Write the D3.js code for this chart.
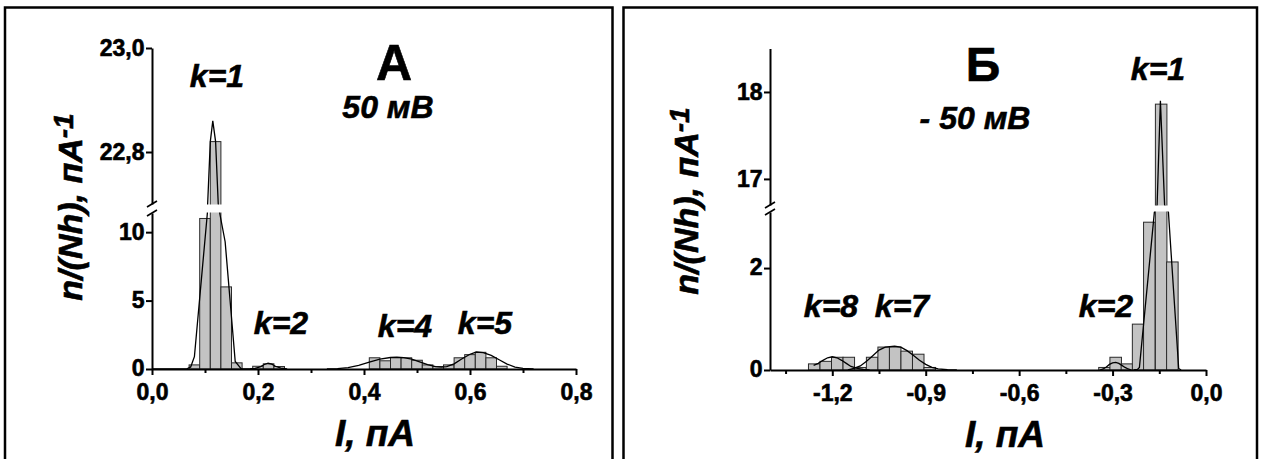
<!DOCTYPE html>
<html>
<head>
<meta charset="utf-8">
<script src="https://cdn.jsdelivr.net/npm/d3@7"></script>
<style>
  body { margin: 0; background: #fff; }
  svg { display: block; }
  text { font-family: "Liberation Sans", Arial, sans-serif; font-weight: bold; fill: #000;
         stroke: #000; stroke-width: 0.6px; }
</style>
</head>
<body>
<svg id="fig" width="1263" height="459"></svg>
<script>
// ---------- Panel A: +50 mV ----------
const histA_I = [0.08, 0.10, 0.12, 0.14, 0.16, 0.20, 0.22, 0.24,
                 0.42, 0.44, 0.46, 0.48, 0.50, 0.52, 0.54, 0.56, 0.58, 0.60, 0.62, 0.64, 0.66];
const histA_n = [0.3, 11.0, 22.82, 6.0, 0.45, 0.2, 0.38, 0.18,
                 0.82, 0.6, 0.84, 0.82, 0.64, 0.3, 0.18, 0.3, 0.82, 1.05, 1.22, 0.82, 0.2];
const binA = 0.02;

const fitA_k1 = [[0.0, 0], [0.065, 0], [0.073, 0.15], [0.08, 0.9], [0.1045, 11.4], [0.1048, 17],
                 [0.105, 22.7], [0.11, 22.82], [0.1147, 22.86], [0.12, 22.82], [0.125, 22.7],
                 [0.1265, 17], [0.1277, 11.4], [0.138, 9.3], [0.157, 0.55], [0.168, 0.02], [0.19, 0]];
const fitA_k2 = [[0.185, 0], [0.195, 0.05], [0.205, 0.18], [0.212, 0.33], [0.219, 0.42], [0.226, 0.35],
                 [0.233, 0.2], [0.243, 0.06], [0.255, 0]];
const fitA_k45 = [[0.33, 0], [0.35, 0.03], [0.37, 0.1], [0.39, 0.27], [0.41, 0.5], [0.43, 0.72], [0.45, 0.84],
                  [0.462, 0.86], [0.475, 0.83], [0.49, 0.72], [0.505, 0.52], [0.52, 0.32], [0.535, 0.17],
                  [0.546, 0.13], [0.556, 0.17], [0.57, 0.38], [0.585, 0.75], [0.60, 1.08], [0.612, 1.24],
                  [0.625, 1.2], [0.64, 1.0], [0.655, 0.68], [0.67, 0.36], [0.685, 0.14], [0.70, 0.04], [0.72, 0]];

const xTicksA = [0, 0.2, 0.4, 0.6, 0.8];
const xTickLabelsA = ["0,0", "0,2", "0,4", "0,6", "0,8"];
const xMinorA = [0.1, 0.3, 0.5, 0.7];
const yTicksLowA = [0, 5, 10];
const yTickLabelsLowA = ["0", "5", "10"];
const yTicksHighA = [22.8, 23.0];
const yTickLabelsHighA = ["22,8", "23,0"];
const peakLabelsA = ["k=1", "k=2", "k=4", "k=5"];

// ---------- Panel Б: −50 mV ----------
const histB_I = [-1.258, -1.221, -1.184, -1.147, -1.110, -1.072, -1.035, -0.998, -0.961, -0.924, -0.887,
                 -0.326, -0.290, -0.254, -0.218, -0.182, -0.144, -0.108];
const histB_n = [0.12, 0.17, 0.25, 0.25, 0.05, 0.25, 0.45, 0.45, 0.37, 0.31, 0.05,
                 0.05, 0.25, 0.12, 0.9, 2.9, 17.86, 2.12];
const binB = 0.037;

const fitB_k8 = [[-1.26, 0.09], [-1.245, 0.13], [-1.23, 0.19], [-1.215, 0.24], [-1.2, 0.26], [-1.185, 0.24],
                 [-1.17, 0.19], [-1.155, 0.13], [-1.14, 0.07], [-1.12, 0.03], [-1.1, 0.01], [-1.08, 0]];
const fitB_k7 = [[-1.15, 0], [-1.13, 0.03], [-1.11, 0.08], [-1.09, 0.17], [-1.07, 0.28], [-1.05, 0.39],
                 [-1.03, 0.45], [-1.0, 0.47], [-0.98, 0.45], [-0.96, 0.38], [-0.94, 0.29], [-0.92, 0.19],
                 [-0.90, 0.11], [-0.88, 0.05], [-0.86, 0.02], [-0.83, 0.005], [-0.80, 0]];
const fitB_k2 = [[-0.34, 0], [-0.33, 0.02], [-0.32, 0.06], [-0.31, 0.11], [-0.30, 0.14], [-0.29, 0.15],
                 [-0.28, 0.13], [-0.27, 0.09], [-0.26, 0.05], [-0.25, 0.02], [-0.24, 0]];
const fitB_k1 = [[-0.232, 0], [-0.22, 0.01], [-0.2138, 0.05], [-0.1657, 3.1], [-0.16, 10], [-0.157, 16.7],
                 [-0.1464, 17.9], [-0.1329, 16.7], [-0.127, 10], [-0.1207, 3.1], [-0.0877, 0.03], [-0.08, 0]];

const xTicksB = [-1.2, -0.9, -0.6, -0.3, 0.0];
const xTickLabelsB = ["-1,2", "-0,9", "-0,6", "-0,3", "0,0"];
const xMinorB = [-1.35, -1.05, -0.75, -0.45, -0.15];
const yTicksLowB = [0, 2];
const yTickLabelsLowB = ["0", "2"];
const yTicksHighB = [17, 18];
const yTickLabelsHighB = ["17", "18"];
const peakLabelsB = ["k=8", "k=7", "k=2", "k=1"];

const xTitle = "I, пА";
const yTitleMain = "n/(Nh), пА";
const yTitleSup = "-1";

// ---------- drawing helpers ----------
const svg = d3.select("#fig");

// y scale with an axis break: a lower and an upper linear segment
function brokenScale(lowDom, lowRange, highDom, highRange) {
  const lo = d3.scaleLinear().domain(lowDom).range(lowRange);
  const hi = d3.scaleLinear().domain(highDom).range(highRange);
  const f = v => {
    if (v <= lowDom[1]) return lo(v);
    if (v >= highDom[0]) return hi(v);
    const t = (v - lowDom[1]) / (highDom[0] - lowDom[1]);
    return lowRange[1] + t * (highRange[0] - lowRange[1]);
  };
  f.lo = lo; f.hi = hi;
  return f;
}

function addText(g, x, y, str, size, italic, anchor) {
  return g.append("text")
    .attr("x", x).attr("y", y)
    .attr("text-anchor", anchor || "middle")
    .style("font-size", size + "px")
    .style("font-style", italic ? "italic" : "normal")
    .text(str);
}

function drawPanel(p) {
  const g = svg.append("g");

  // frame
  g.append("rect").attr("x", p.frame[0]).attr("y", p.frame[1])
    .attr("width", p.frame[2]).attr("height", p.frame[3])
    .attr("fill", "none").attr("stroke", "#000").attr("stroke-width", 2.5);

  const x = d3.scaleLinear().domain(p.xDomain).range(p.xRange);
  const y = brokenScale(p.yLowDom, p.yLowRange, p.yHighDom, p.yHighRange);
  const y0 = y(0);

  // histogram bars
  g.append("g").selectAll("rect").data(p.hist).join("rect")
    .attr("x", d => x(d[0] - p.bin / 2))
    .attr("width", d => x(d[0] + p.bin / 2) - x(d[0] - p.bin / 2))
    .attr("y", d => y(d[1]))
    .attr("height", d => y0 - y(d[1]))
    .attr("fill", "#c3c3c3").attr("stroke", "#2a2a2a").attr("stroke-width", 1);

  // fitted curves
  const line = d3.line().x(d => x(d[0])).y(d => y(d[1]));
  g.append("g").selectAll("path").data(p.fits).join("path")
    .attr("d", line).attr("fill", "none").attr("stroke", "#000").attr("stroke-width", 1.3);

  // white gap where the axis is broken
  const gapTop = p.yHighRange[0], gapBot = p.yLowRange[1];
  g.append("rect").attr("x", p.xRange[0] + 1.5).attr("y", gapTop + 0.5)
    .attr("width", p.xRange[1] - p.xRange[0]).attr("height", gapBot - gapTop - 1)
    .attr("fill", "#fff");

  // x axis
  const gx = g.append("g").attr("transform", `translate(0,${y0})`);
  gx.call(d3.axisBottom(x).tickValues(p.xTicks).tickFormat((d, i) => p.xTickLabels[i])
    .tickSize(6).tickPadding(p.xPad).tickSizeOuter(0));
  gx.append("g").call(d3.axisBottom(x).tickValues(p.xMinor).tickFormat("").tickSize(4).tickSizeOuter(0))
    .select(".domain").remove();

  // y axis, two segments
  const gyLo = g.append("g").attr("transform", `translate(${p.xRange[0]},0)`);
  gyLo.call(d3.axisLeft(y.lo).tickValues(p.yTicksLow).tickFormat((d, i) => p.yTickLabelsLow[i])
    .tickSize(6).tickPadding(1.5).tickSizeOuter(0));
  const gyHi = g.append("g").attr("transform", `translate(${p.xRange[0]},0)`);
  gyHi.call(d3.axisLeft(y.hi).tickValues(p.yTicksHigh).tickFormat((d, i) => p.yTickLabelsHigh[i])
    .tickSize(6).tickPadding(1.5).tickSizeOuter(0));

  [gx, gyLo, gyHi].forEach(a => {
    a.selectAll(".domain").attr("stroke", "#000").attr("stroke-width", 2);
    a.selectAll(".tick line").attr("stroke", "#000").attr("stroke-width", 2);
    a.selectAll("text").attr("font-family", null).attr("font-size", null)
      .style("font-weight", "bold").style("font-size", "23px");
  });
  gyLo.selectAll("text").attr("dy", "0.3em");

  // break marks on the y axis
  const ax = p.xRange[0];
  [gapTop, gapBot].forEach(yy => {
    g.append("line").attr("x1", ax - 5).attr("y1", yy + 3).attr("x2", ax + 5).attr("y2", yy - 3)
      .attr("stroke", "#000").attr("stroke-width", 1.6);
  });

  // panel letter and voltage
  addText(g, p.letterPos[0], p.letterPos[1], p.letter, p.letterSize, false);
  addText(g, p.voltPos[0], p.voltPos[1], p.volt, 32, true);

  // peak labels
  p.peakLabels.forEach((s, i) => addText(g, p.peakPos[i][0], p.peakPos[i][1], s, 32, true));

  // axis titles
  addText(g, p.xTitlePos[0], p.xTitlePos[1], xTitle, 37, true);
  const yt = g.append("text")
    .attr("transform", `translate(${p.yTitlePos[0]},${p.yTitlePos[1]}) rotate(-90)`)
    .attr("text-anchor", "middle").style("font-size", "34px").style("font-style", "italic");
  yt.append("tspan").text(yTitleMain);
  yt.append("tspan").attr("dy", -9).style("font-size", "28px").text(yTitleSup);
}

drawPanel({
  frame: [5, 7.5, 607.5, 480],
  xDomain: [0, 0.8], xRange: [152, 576],
  yLowDom: [0, 11.4], yLowRange: [369, 213],
  yHighDom: [22.7, 23.0], yHighRange: [204, 48],
  hist: histA_I.map((v, i) => [v, histA_n[i]]), bin: binA,
  fits: [fitA_k1, fitA_k2, fitA_k45],
  xTicks: xTicksA, xTickLabels: xTickLabelsA, xMinor: xMinorA, xPad: 9,
  yTicksLow: yTicksLowA, yTickLabelsLow: yTickLabelsLowA,
  yTicksHigh: yTicksHighA, yTickLabelsHigh: yTickLabelsHighA,
  letter: "А", letterPos: [394, 80], letterSize: 50,
  volt: "50 мВ", voltPos: [388, 118],
  peakLabels: peakLabelsA, peakPos: [[217, 87], [281, 334], [405, 337], [485, 334]],
  xTitlePos: [375, 446], yTitlePos: [82, 207]
});

drawPanel({
  frame: [623.5, 7.5, 633.5, 480],
  xDomain: [-1.4, 0], xRange: [770, 1206],
  yLowDom: [0, 3.1], yLowRange: [370, 212],
  yHighDom: [16.7, 18.5], yHighRange: [205, 48.5],
  hist: histB_I.map((v, i) => [v, histB_n[i]]), bin: binB,
  fits: [fitB_k8, fitB_k7, fitB_k2, fitB_k1],
  xTicks: xTicksB, xTickLabels: xTickLabelsB, xMinor: xMinorB, xPad: 9,
  yTicksLow: yTicksLowB, yTickLabelsLow: yTickLabelsLowB,
  yTicksHigh: yTicksHighB, yTickLabelsHigh: yTickLabelsHighB,
  letter: "Б", letterPos: [983, 81], letterSize: 48,
  volt: "- 50 мВ", voltPos: [975, 129],
  peakLabels: peakLabelsB, peakPos: [[831, 317], [902, 317], [1106, 317], [1158, 80]],
  xTitlePos: [1005, 447], yTitlePos: [698, 201]
});
</script>
</body>
</html>
